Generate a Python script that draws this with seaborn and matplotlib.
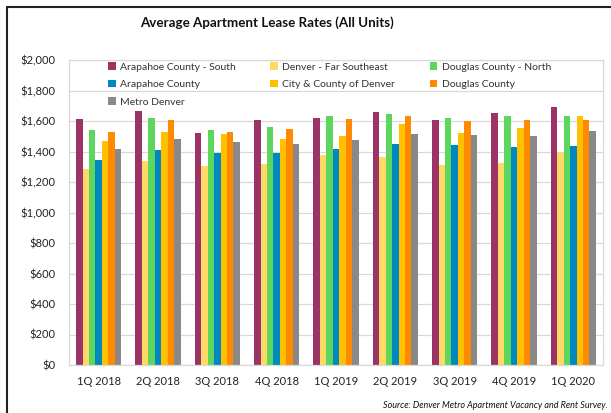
import numpy as np
import pandas as pd
import seaborn as sns
import matplotlib.pyplot as plt
from matplotlib.lines import Line2D
from matplotlib.ticker import FuncFormatter

# data
quarters = ["1Q 2018", "2Q 2018", "3Q 2018", "4Q 2018", "1Q 2019",
            "2Q 2019", "3Q 2019", "4Q 2019", "1Q 2020"]
series = ["Arapahoe County - South", "Denver - Far Southeast", "Douglas County - North",
          "Arapahoe County", "City & County of Denver", "Douglas County", "Metro Denver"]

arapahoe_south = [1611, 1666, 1521, 1609, 1617, 1657, 1607, 1655, 1692]
denver_far_se = [1284, 1339, 1302, 1319, 1378, 1365, 1313, 1326, 1391]
douglas_north = [1541, 1617, 1539, 1558, 1630, 1644, 1620, 1631, 1633]
arapahoe = [1345, 1409, 1391, 1389, 1417, 1446, 1444, 1431, 1435]
city_county_denver = [1470, 1530, 1515, 1485, 1500, 1580, 1519, 1554, 1633]
douglas = [1526, 1607, 1530, 1548, 1615, 1630, 1602, 1607, 1607]
metro_denver = [1417, 1483, 1463, 1452, 1478, 1515, 1506, 1502, 1534]

colors = ["#9B3366", "#FFD966", "#5CD65C", "#0088C0", "#FFC000", "#FF8A00", "#898989"]

wide = pd.DataFrame(
    dict(zip(series, [arapahoe_south, denver_far_se, douglas_north, arapahoe,
                      city_county_denver, douglas, metro_denver])),
    index=quarters,
)
df = wide.reset_index(names="quarter").melt(id_vars="quarter", var_name="series", value_name="rate")

sns.set_theme(style="white")
plt.rcParams["font.family"] = ["Lato", "DejaVu Sans"]

fig = plt.figure(figsize=(6.11, 4.13), dpi=100)
ax = fig.add_axes([69 / 611, 48 / 413, 534 / 611, 305 / 413])

sns.barplot(data=df, x="quarter", y="rate", hue="series", hue_order=series,
            palette=colors, saturation=1, width=0.76, ax=ax, linewidth=0)

ax.set_ylim(0, 2000)
ax.set_xlim(-0.5, 8.5)
ax.set_yticks(np.arange(0, 2001, 200))
ax.yaxis.set_major_formatter(FuncFormatter(lambda v, p: "${:,.0f}".format(v)))
ax.yaxis.grid(True, color="#D9D9D9", linewidth=0.9)
ax.set_axisbelow(True)
ax.set_xlabel("")
ax.set_ylabel("")
for s in ax.spines.values():
    s.set_color("#D9D9D9")
    s.set_linewidth(0.9)
ax.tick_params(axis="both", length=0, labelsize=8, colors="#222222")
ax.tick_params(axis="y", pad=10)
ax.tick_params(axis="x", pad=8)

handles, labels = ax.get_legend_handles_labels()
order = [0, 3, 6, 1, 4, 2, 5]
ax.legend([handles[i] for i in order], [labels[i] for i in order], ncol=3,
          loc="upper left", bbox_to_anchor=(103 / 611, 1 - 57 / 413),
          bbox_transform=fig.transFigure, frameon=False, fontsize=7.5,
          handlelength=0.7, handleheight=0.7, handletextpad=0.45,
          columnspacing=3.3, labelspacing=0.8, borderpad=0, labelcolor="#333333")

fig.text(267 / 611, 1 - 23 / 413, "Average Apartment Lease Rates (All Units)",
         ha="center", va="center", fontsize=9.6, fontweight="bold", color="#111111")
fig.text(608 / 611, 1 - 406 / 413, "Source: Denver Metro Apartment Vacancy and Rent Survey.",
         ha="right", va="center", fontsize=6.5, style="italic", color="#111111")

# outer frame of the original graphic (left and top edges only)
fig.add_artist(Line2D([7 / 611, 7 / 611], [0, 1 - 7 / 413], transform=fig.transFigure,
                      color="#222222", linewidth=1.5))
fig.add_artist(Line2D([7 / 611, 1], [1 - 7 / 413, 1 - 7 / 413], transform=fig.transFigure,
                      color="#222222", linewidth=1.5))

fig.savefig("out.png", dpi=100)
